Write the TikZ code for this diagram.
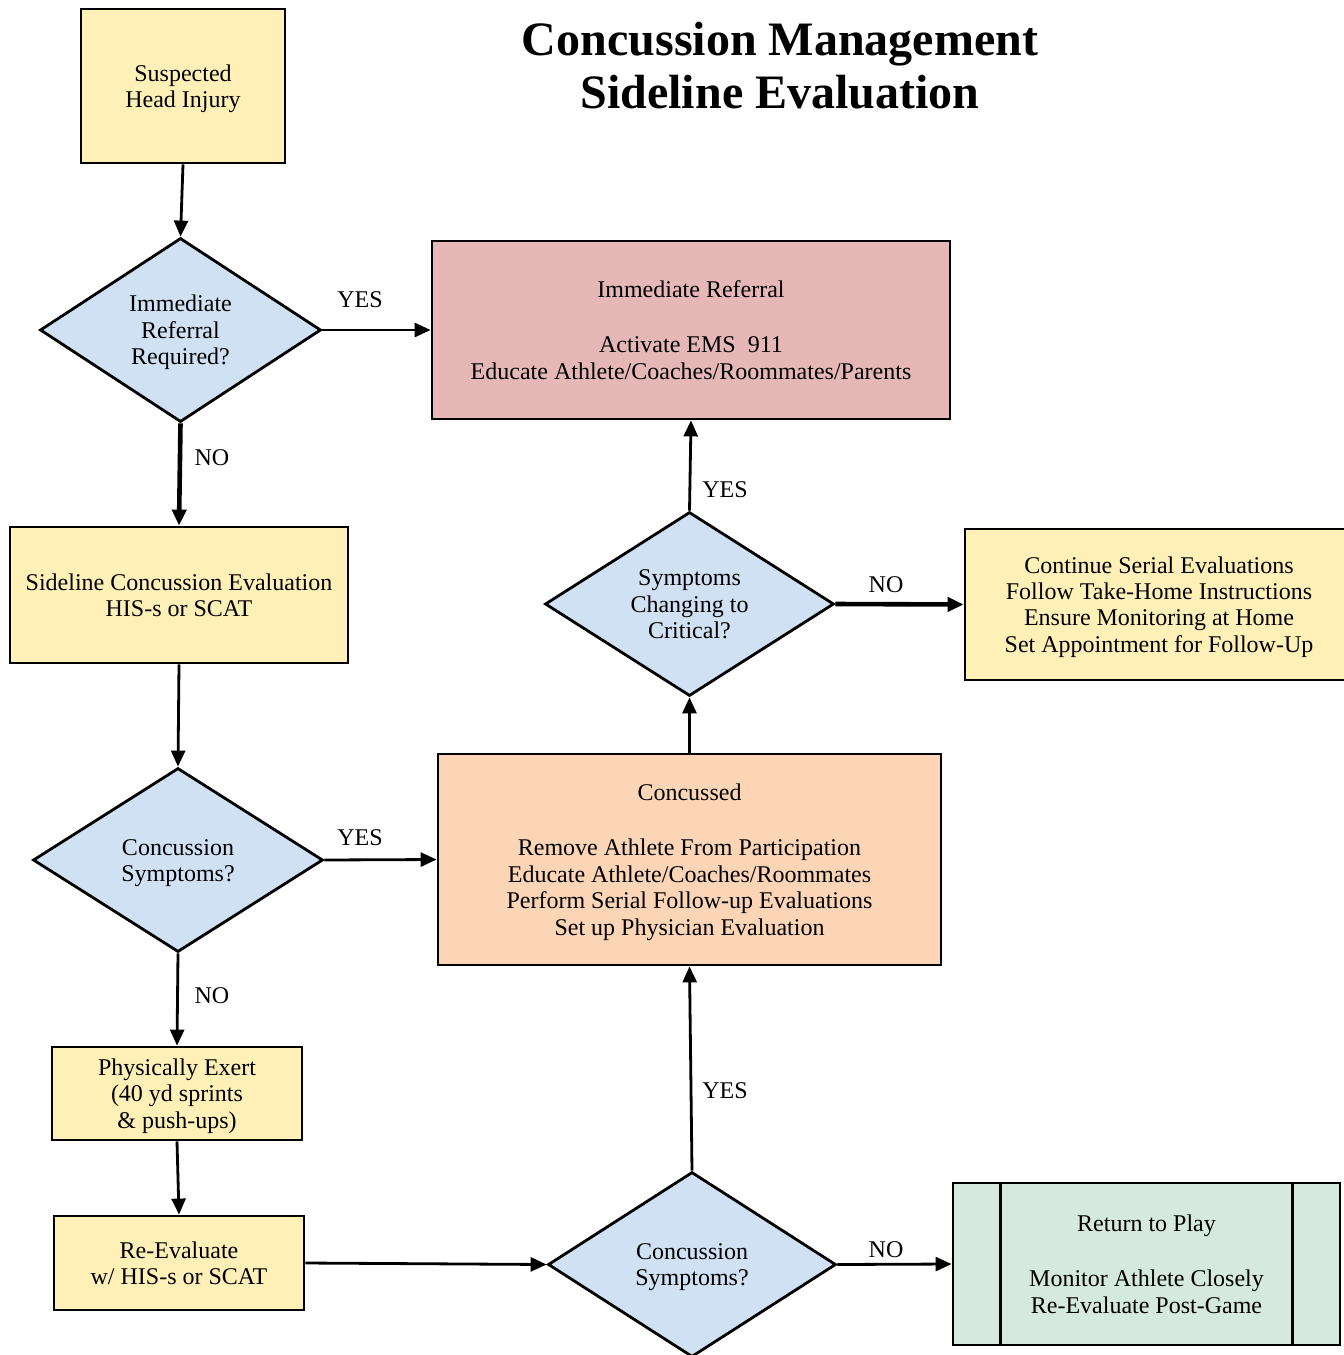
\documentclass[tikz,border=0pt]{standalone}
\usepackage{fontspec}
\setmainfont{Liberation Serif}
\usetikzlibrary{shapes.geometric,arrows.meta}

\definecolor{boxyellow}{HTML}{FEF0B6}
\definecolor{boxblue}{HTML}{CFE1F3}
\definecolor{boxpink}{HTML}{E5B7B7}
\definecolor{boxpeach}{HTML}{FBD5B5}
\definecolor{boxgreen}{HTML}{D5E9DE}

% fixed top and bottom line metrics so every text block is centred alike
\newcommand{\topstrut}{\rule{0pt}{11pt}}
\newcommand{\botstrut}{\rule[-2.8pt]{0pt}{2.8pt}}

\tikzset{
  base/.style={draw=black, line width=1.4pt, inner sep=0pt, align=center,
    font=\fontsize{12pt}{13.2pt}\selectfont},
  procbox/.style={base, rectangle},
  decision/.style={base, diamond, shape aspect=1.57, fill=boxblue},
  flow/.style={line width=1.4pt, -{Triangle[length=8pt,width=7pt]}},
  flowbold/.style={line width=2.3pt, -{Triangle[length=8pt,width=7pt]}},
  answer/.style={font=\fontsize{12pt}{13.2pt}\selectfont, inner sep=0pt}
}

\begin{document}
\begin{tikzpicture}[x=0.5pt, y=-0.5pt]
  \clip (0,0) rectangle (1344,1355);
  \fill[white] (0,0) rectangle (1344,1355);

  % title
  \node[font=\bfseries\fontsize{24pt}{26.5pt}\selectfont, align=center] (title) at (780,66)
    {Concussion Management\\Sideline Evaluation};

  % nodes
  \node[procbox, fill=boxyellow, minimum width=102pt, minimum height=77pt] (shi) at (183,86)
    {\topstrut Suspected\\Head Injury\botstrut};
  \node[decision, minimum width=140.5pt, minimum height=92pt] (d1) at (180.5,330)
    {\topstrut Immediate\\Referral\\Required?\botstrut};
  \node[procbox, fill=boxpink, minimum width=259pt, minimum height=89pt] (ir) at (691,330)
    {\topstrut Immediate Referral\\[14.5pt]Activate EMS\ \ 911\\Educate Athlete/Coaches/Roommates/Parents\botstrut};
  \node[procbox, fill=boxyellow, minimum width=169pt, minimum height=68pt] (sce) at (179,595)
    {\topstrut Sideline Concussion Evaluation\\HIS-s or SCAT\botstrut};
  \node[decision, minimum width=145pt, minimum height=92pt] (d2) at (178,860)
    {\topstrut Concussion\\Symptoms?\botstrut};
  \node[procbox, fill=boxpeach, minimum width=251.5pt, minimum height=105.5pt] (con) at (689.5,859.5)
    {\topstrut Concussed\\[14.5pt]Remove Athlete From Participation\\Educate Athlete/Coaches/Roommates\\Perform Serial\ Follow-up Evaluations\\Set up Physician Evaluation\botstrut};
  \node[decision, minimum width=144.5pt, minimum height=92pt] (d3) at (689.5,604)
    {\topstrut Symptoms\\Changing to\\Critical?\botstrut};
  \node[procbox, fill=boxyellow, minimum width=194pt, minimum height=75.5pt] (cse) at (1159,604.5)
    {\topstrut Continue Serial Evaluations\\Follow Take-Home Instructions\\Ensure Monitoring at Home\\Set Appointment for Follow-Up\botstrut};
  \node[procbox, fill=boxyellow, minimum width=125pt, minimum height=46.5pt] (pe) at (177,1093.5)
    {\topstrut Physically Exert\\(40 yd sprints\\\& push-ups)\botstrut};
  \node[procbox, fill=boxyellow, minimum width=125pt, minimum height=47pt] (re) at (179,1263)
    {\topstrut Re-Evaluate\\w/ HIS-s or SCAT\botstrut};
  \node[decision, minimum width=144pt, minimum height=92.5pt] (d4) at (692,1264.5)
    {\topstrut Concussion\\Symptoms?\botstrut};
  \node[procbox, fill=boxgreen, minimum width=193.5pt, minimum height=81pt] (rtp) at (1146.5,1264)
    {\topstrut Return to Play\\[14.5pt]Monitor Athlete Closely\\Re-Evaluate Post-Game\botstrut};
  % predefined-process side bars
  \draw[line width=1.4pt] ([xshift=24.5pt]rtp.north west) -- ([xshift=24.5pt]rtp.south west);
  \draw[line width=1.4pt] ([xshift=-24.5pt]rtp.north east) -- ([xshift=-24.5pt]rtp.south east);

  % connectors
  \draw[flow] (shi.south) -- (d1.north);
  \draw[flow] (d1.east) -- (ir.west);
  \draw[flowbold] (d1.south) -- (sce.north);
  \draw[flow] (sce.south) -- (d2.north);
  \draw[flow] (d2.east) -- (con.west);
  \draw[flow] (d2.south) -- (pe.north);
  \draw[flow] (pe.south) -- (re.north);
  \draw[flow] (re.east) -- (d4.west);
  \draw[flow] (d4.north) -- (con.south);
  \draw[flow] (d4.east) -- (rtp.west);
  \draw[flow] (con.north) -- (d3.south);
  \draw[flow] (d3.north) -- (ir.south);
  \draw[flowbold] (d3.east) -- (cse.west);

  % answer labels
  \node[answer] (l1) at (360,300) {YES};
  \node[answer] (l2) at (212,458) {NO};
  \node[answer] (l3) at (360,838) {YES};
  \node[answer] (l4) at (212,996) {NO};
  \node[answer] (l5) at (725,490) {YES};
  \node[answer] (l6) at (886,585) {NO};
  \node[answer] (l7) at (725,1091) {YES};
  \node[answer] (l8) at (886,1250) {NO};
\end{tikzpicture}
\end{document}
